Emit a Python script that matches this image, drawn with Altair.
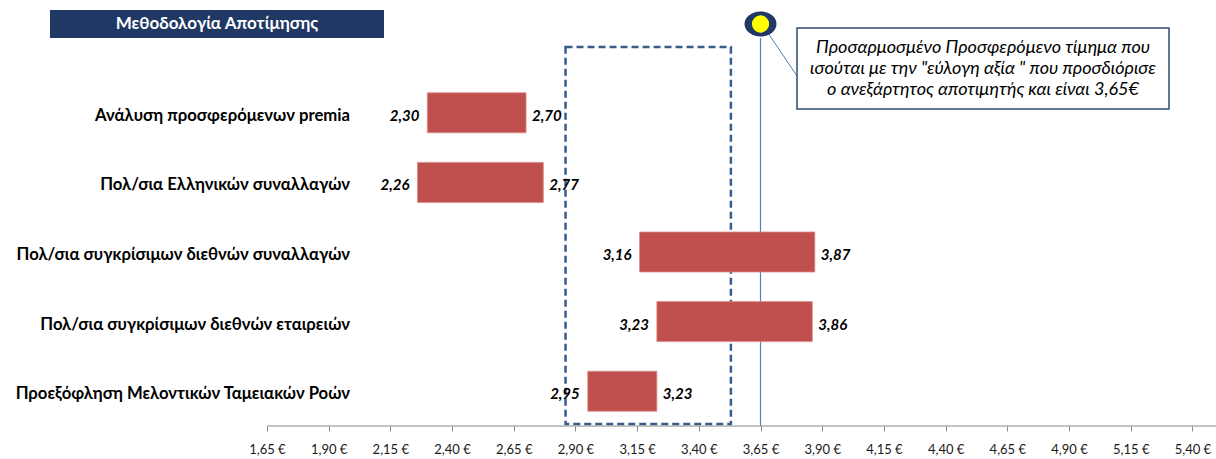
import altair as alt
import pandas as pd

# Valuation methods and their price ranges (EUR per share)
methods = [
    "Ανάλυση προσφερόμενων premia",
    "Πολ/σια Ελληνικών συναλλαγών",
    "Πολ/σια συγκρίσιμων διεθνών συναλλαγών",
    "Πολ/σια συγκρίσιμων διεθνών εταιρειών",
    "Προεξόφληση Μελοντικών Ταμειακών Ροών",
]
low = [2.30, 2.26, 3.16, 3.23, 2.95]
high = [2.70, 2.77, 3.87, 3.86, 3.23]

tick_values = [1.65, 1.90, 2.15, 2.40, 2.65, 2.90, 3.15, 3.40, 3.65,
               3.90, 4.15, 4.40, 4.65, 4.90, 5.15, 5.40]
fair_value = 3.65
focus_range = [2.86, 3.53]

header = "Μεθοδολογία Αποτίμησης"
note_lines = [
    "Προσαρμοσμένο Προσφερόμενο τίμημα  που",
    "ισούται με την \"εύλογη αξία \" που προσδιόρισε",
    "ο ανεξάρτητος αποτιμητής και είναι 3,65€",
]

FONT = "Lato"
W, H = 1216, 426
NAVY = "#1F3864"
BAR_RED = "#C0504D"
LINE_BLUE = "#4F81BD"

df = pd.DataFrame({"method": methods, "low": low, "high": high})
df["low_txt"] = [f"{v:.2f}".replace(".", ",") for v in low]
df["high_txt"] = [f"{v:.2f}".replace(".", ",") for v in high]

x_scale = alt.Scale(domain=[0.5685, 5.4956], nice=False, zero=False)
y_scale = alt.Scale(domain=methods, range=[78, 426],
                    paddingInner=0.425, paddingOuter=0.2125)

x_axis = alt.Axis(
    values=tick_values,
    labelExpr="replace(format(datum.value, '.2f'), '.', ',') + ' €'",
    domain=False, grid=False, ticks=True, tickSize=5, tickColor="#888888",
    labelFont=FONT, labelFontSize=13, labelColor="#1a1a1a", labelPadding=12,
    labelFlush=False, labelOverlap=False, title=None,
)

base = alt.Chart(df)

bars = base.mark_bar(color=BAR_RED, stroke="#D98C8A", strokeWidth=0.8).encode(
    x=alt.X("low:Q", scale=x_scale, axis=x_axis),
    x2="high:Q",
    y=alt.Y("method:N", scale=y_scale, axis=None, sort=methods),
)

low_labels = base.mark_text(
    align="right", baseline="middle", dx=-8, dy=3,
    font=FONT, fontSize=15, fontWeight="bold", fontStyle="italic", color="#000000",
).encode(x="low:Q", y=alt.Y("method:N", sort=methods), text="low_txt:N")

high_labels = base.mark_text(
    align="left", baseline="middle", dx=6, dy=3,
    font=FONT, fontSize=15, fontWeight="bold", fontStyle="italic", color="#000000",
).encode(x="high:Q", y=alt.Y("method:N", sort=methods), text="high_txt:N")

cat_labels = base.mark_text(
    align="right", baseline="middle", dy=3,
    font=FONT, fontSize=16.7, fontWeight="bold", color="#000000",
).encode(x=alt.value(350), y=alt.Y("method:N", sort=methods), text="method:N")

# Axis baseline starting at the first tick and running to the right edge
axis_line = alt.Chart().mark_rule(color="#888888", strokeWidth=1).encode(
    x=alt.datum(tick_values[0]), x2=alt.value(W), y=alt.value(H)
)

# Highlighted price zone
focus_box = alt.Chart().mark_rect(
    fillOpacity=0, stroke="#385D8A", strokeWidth=2.5, strokeDash=[7, 4]
).encode(
    x=alt.datum(focus_range[0]), x2=alt.datum(focus_range[1]),
    y=alt.value(47), y2=alt.value(H - 2),
)

# Fair value marker line
fair_line = alt.Chart().mark_rule(color=LINE_BLUE, strokeWidth=1.2).encode(
    x=alt.datum(fair_value), y=alt.value(38), y2=alt.value(H)
)

marker_outer = alt.Chart().mark_point(
    shape="M -1 0 A 1 0.78 0 1 0 1 0 A 1 0.78 0 1 0 -1 0 Z",
    filled=True, fill=NAVY, opacity=1, size=1024, strokeWidth=0,
).encode(x=alt.datum(fair_value), y=alt.value(24))

marker_inner = alt.Chart().mark_point(
    shape="circle", filled=True, fill="#FFFF00", opacity=1, size=300, strokeWidth=0,
).encode(x=alt.datum(fair_value), y=alt.value(24))

connector = alt.Chart().mark_rule(color=LINE_BLUE, strokeWidth=1).encode(
    x=alt.value(768), y=alt.value(33), x2=alt.value(797), y2=alt.value(76)
)

note_box = alt.Chart().mark_rect(
    fill="#FFFFFF", stroke="#2F4A75", strokeWidth=1.5
).encode(x=alt.value(797), x2=alt.value(1169), y=alt.value(28), y2=alt.value(109))

note_text = alt.Chart().mark_text(
    align="center", baseline="middle", lineHeight=21,
    font=FONT, fontSize=18, fontStyle="italic", color="#000000",
).encode(x=alt.value(983), y=alt.value(48), text=alt.value(note_lines))

header_box = alt.Chart().mark_rect(fill=NAVY).encode(
    x=alt.value(50), x2=alt.value(384), y=alt.value(10), y2=alt.value(38)
)
header_text = alt.Chart().mark_text(
    align="center", baseline="middle", font=FONT, fontSize=17,
    fontWeight="bold", color="#FFFFFF",
).encode(x=alt.value(217), y=alt.value(24), text=alt.value(header))

chart = alt.layer(
    header_box, header_text, focus_box, fair_line, bars, low_labels, high_labels,
    cat_labels, axis_line, connector, note_box, note_text, marker_outer, marker_inner,
).properties(
    width=W, height=H,
    autosize=alt.AutoSizeParams(type="none"),
    padding={"left": 0, "top": 0, "right": 0, "bottom": 33},
    background="#FFFFFF",
).configure_view(stroke=None)

chart.save("out.html", embed_options={"renderer": "svg", "actions": False})
